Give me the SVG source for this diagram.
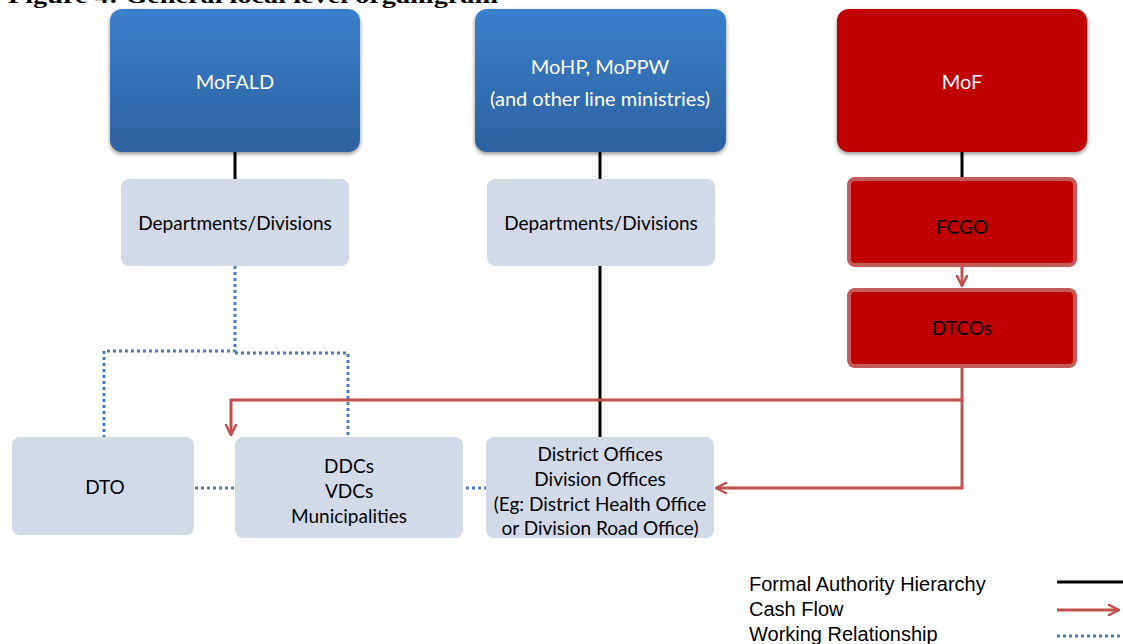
<svg xmlns="http://www.w3.org/2000/svg" width="1123" height="644" viewBox="0 0 1123 644">
<defs>
<linearGradient id="blueGrad" x1="0" y1="0" x2="0" y2="1">
<stop offset="0" stop-color="#3B7FCD"/>
<stop offset="1" stop-color="#2D619F"/>
</linearGradient>
<filter id="shadow" x="-10%" y="-10%" width="120%" height="125%">
<feGaussianBlur in="SourceAlpha" stdDeviation="2"/>
<feOffset dx="0" dy="2" result="b"/>
<feComponentTransfer><feFuncA type="linear" slope="0.45"/></feComponentTransfer>
<feMerge><feMergeNode/><feMergeNode in="SourceGraphic"/></feMerge>
</filter>
<marker id="openArrow" viewBox="0 0 12 12" refX="11" refY="6" markerWidth="12" markerHeight="12" markerUnits="userSpaceOnUse" orient="auto">
<path d="M1,1 L11,6 L1,11" fill="none" stroke="#C0504D" stroke-width="2.5" stroke-linecap="round" stroke-linejoin="round"/>
</marker>
</defs>
<style>
.title{font-family:"Liberation Serif",serif;font-weight:bold;font-size:22px;fill:#000}
.lbl{font-family:Lato,"Open Sans",sans-serif;font-size:19px;text-anchor:middle}
.white{fill:#fff;font-size:20px}
.dark{fill:#000}
.grey{fill:#D3DAE7}
.red{fill:#C00000}
.redbox{fill:#C00000;stroke:#C45A59;stroke-width:4}
.formal{stroke:#000;stroke-width:3;fill:none}
.cash{stroke:#C0504D;stroke-width:3;fill:none}
.work{stroke:#4A7EC2;stroke-width:3;fill:none;stroke-dasharray:3 3}
.leg{font-family:"Liberation Sans",Arial,sans-serif;font-size:20px;fill:#000}
</style>
<rect width="1123" height="644" fill="#fff"/>
<text class="title" x="8" y="3" textLength="490" lengthAdjust="spacingAndGlyphs">Figure 4: General local level organigram</text>

<g id="connectors">
<line class="formal" x1="235" y1="150" x2="235" y2="180"/>
<line class="formal" x1="600" y1="150" x2="600" y2="180"/>
<line class="formal" x1="600" y1="266" x2="600" y2="438"/>
<line class="formal" x1="962" y1="150" x2="962" y2="178"/>
<line class="cash" x1="962" y1="267" x2="962" y2="286" marker-end="url(#openArrow)"/>
<polyline class="cash" points="962,368 962,400 231,400 231,435" marker-end="url(#openArrow)"/>
<polyline class="cash" points="962,400 962,488 716,488" marker-end="url(#openArrow)"/>
<polyline class="work" points="235,266 235,351 104,351 104,437"/>
<polyline class="work" points="235,353 348,353 348,437"/>
<line class="work" x1="195" y1="488" x2="255" y2="488"/>
<line class="work" x1="460" y1="488" x2="486" y2="488"/>
</g>

<g id="mofald">
<rect x="110" y="9" width="250" height="143" rx="12" fill="url(#blueGrad)" filter="url(#shadow)"/>
<text class="lbl white" x="235" y="89">MoFALD</text>
</g>
<g id="mohp">
<rect x="475" y="9" width="251" height="143" rx="12" fill="url(#blueGrad)" filter="url(#shadow)"/>
<text class="lbl white" x="600" y="74">MoHP, MoPPW</text>
<text class="lbl white" x="600" y="106">(and other line ministries)</text>
</g>
<g id="mof">
<rect x="837" y="9" width="250" height="143" rx="12" class="red" filter="url(#shadow)"/>
<text class="lbl white" x="962" y="89">MoF</text>
</g>
<g id="dept1">
<rect x="121" y="179" width="228" height="87" rx="8" class="grey"/>
<text class="lbl dark" x="235" y="230">Departments/Divisions</text>
</g>
<g id="dept2">
<rect x="487" y="179" width="228" height="87" rx="8" class="grey"/>
<text class="lbl dark" x="601" y="230">Departments/Divisions</text>
</g>
<g id="fcgo">
<rect x="849" y="179" width="226" height="86" rx="6" class="redbox"/>
<text class="lbl dark" x="962" y="234">FCGO</text>
</g>
<g id="dtcos">
<rect x="849" y="290" width="226" height="76" rx="6" class="redbox"/>
<text class="lbl dark" x="962" y="335">DTCOs</text>
</g>
<g id="dto">
<rect x="12" y="437" width="182" height="98" rx="8" class="grey"/>
<text class="lbl dark" x="105" y="494">DTO</text>
</g>
<g id="ddcs">
<rect x="235" y="437" width="228" height="101" rx="8" class="grey"/>
<text class="lbl dark" x="349" y="473">DDCs</text>
<text class="lbl dark" x="349" y="498">VDCs</text>
<text class="lbl dark" x="349" y="523">Municipalities</text>
</g>
<g id="district">
<rect x="486" y="437" width="228" height="101" rx="8" class="grey"/>
<text class="lbl dark" x="600" y="461">District Offices</text>
<text class="lbl dark" x="600" y="486">Division Offices</text>
<text class="lbl dark" x="600" y="511">(Eg: District Health Office</text>
<text class="lbl dark" x="600" y="535">or Division Road Office)</text>
</g>

<g id="legend">
<text class="leg" x="749" y="591">Formal Authority Hierarchy</text>
<text class="leg" x="749" y="616">Cash Flow</text>
<text class="leg" x="749" y="641">Working Relationship</text>
<line class="formal" x1="1057" y1="582" x2="1123" y2="582"/>
<line class="cash" x1="1057" y1="610" x2="1119" y2="610" marker-end="url(#openArrow)"/>
<line class="work" x1="1057" y1="636" x2="1123" y2="636"/>
</g>
</svg>
